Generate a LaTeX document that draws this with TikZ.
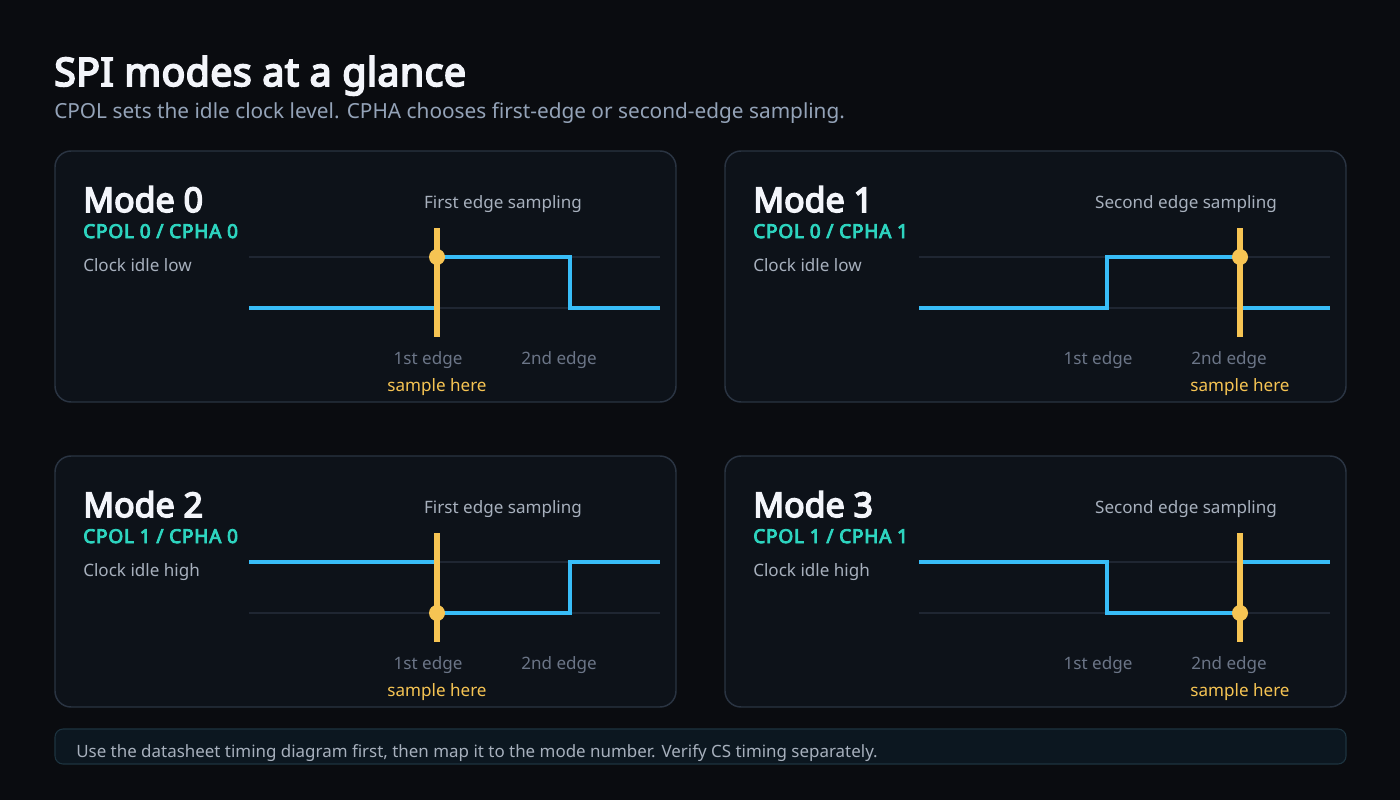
\documentclass[tikz,border=0pt]{standalone}
\usepackage{fontspec}
\setmainfont{Noto Sans}[AutoFakeBold=4.5]
\usetikzlibrary{positioning}
\definecolor{bgdark}{HTML}{0A0C10}
\definecolor{panelfill}{HTML}{0D1219}
\definecolor{panelline}{HTML}{2A3442}
\definecolor{gridline}{HTML}{1F2632}
\definecolor{clockblue}{HTML}{38BDF8}
\definecolor{sampleyellow}{HTML}{F6C453}
\definecolor{polteal}{HTML}{2DD4BF}
\definecolor{titlewhite}{HTML}{F3F5FA}
\definecolor{subgray}{HTML}{94A3B8}
\definecolor{textgray}{HTML}{A7B0BD}
\definecolor{edgegray}{HTML}{6B7587}
\definecolor{notefill}{HTML}{0C1720}
\definecolor{noteline}{HTML}{1D3440}
\newcommand{\px}[1]{\fontsize{#1}{#1}\selectfont}
\begin{document}
\begin{tikzpicture}[x=0.75pt,y=-0.75pt,
  panelbox/.style={draw=panelline,fill=panelfill,line width=1.1pt,rounded corners=12pt},
  gridrule/.style={draw=gridline,line width=1.5pt},
  clockwave/.style={draw=clockblue,line width=3pt},
  sampleline/.style={draw=sampleyellow,line width=3.8pt},
  txt/.style={inner sep=0pt,anchor=base west},
  ctxt/.style={inner sep=0pt,anchor=base}]
  \fill[bgdark] (0,0) rectangle (1400,800);
  \useasboundingbox (0,0) rectangle (1400,800);
  % heading
  \node[txt,text=titlewhite,font=\px{29.5}\bfseries\addfontfeature{LetterSpace=1}] (title) at (54,86) {SPI modes at a glance};
  \node[txt,text=subgray,font=\px{15.6}] (subtitle) at (54,118) {CPOL sets the idle clock level. CPHA chooses first-edge or second-edge sampling.};
  % four mode panels
  \foreach \n/\dx/\dy/\pol/\pha/\idle/\samp/\sc in {0/0/0/0/0/low/First/503,1/670/0/0/1/low/Second/516,2/0/305/1/0/high/First/503,3/670/305/1/1/high/Second/516}{
    \pgfmathsetmacro\yidle{\pol==0 ? 308 : 257}
    \pgfmathsetmacro\yact{565-\yidle}
    \pgfmathsetmacro\xs{\pha==0 ? 437 : 570}
    \begin{scope}[shift={(\dx,\dy)}]
      \draw[panelbox] (55,151) rectangle (676,402);
      \node[txt,text=titlewhite,font=\px{25.5}\bfseries] (mode\n) at (83,212) {Mode \n};
      \node[txt,text=polteal,font=\px{14.3}\bfseries\addfontfeature{LetterSpace=4}] (pol\n) at (83,238) {CPOL \pol\ / CPHA \pha};
      \node[txt,text=textgray,font=\px{12.8}] (idle\n) at (83,271) {Clock idle \idle};
      \node[ctxt,text=textgray,font=\px{12.8}] (samp\n) at (\sc,208) {\samp\ edge sampling};
      \draw[gridrule] (249,257) -- (660,257);
      \draw[gridrule] (249,308) -- (660,308);
      \draw[clockwave] (249,\yidle) -- (437,\yidle) -- (437,\yact) -- (570,\yact) -- (570,\yidle) -- (660,\yidle);
      \coordinate (top\n) at (\xs,228);
      \coordinate (bot\n) at (\xs,337);
      \draw[sampleline] (top\n) -- (bot\n);
      \fill[sampleyellow] (\xs,\yact) circle (6pt);
      \node[ctxt,text=edgegray,font=\px{12.8}] (first\n) at (428,364) {1st edge};
      \node[ctxt,text=edgegray,font=\px{12.8}] (second\n) at (559,364) {2nd edge};
      \node[ctxt,text=sampleyellow,font=\px{12.8}] (here\n) at (\xs,391) {sample here};
    \end{scope}
  }
  % note bar
  \draw[draw=noteline,fill=notefill,line width=0.8pt,rounded corners=6pt] (55,729) rectangle (1346,764);
  \node[txt,text=textgray,font=\px{12.7}] (note) at (76,757) {Use the datasheet timing diagram first, then map it to the mode number. Verify CS timing separately.};
\end{tikzpicture}
\end{document}
